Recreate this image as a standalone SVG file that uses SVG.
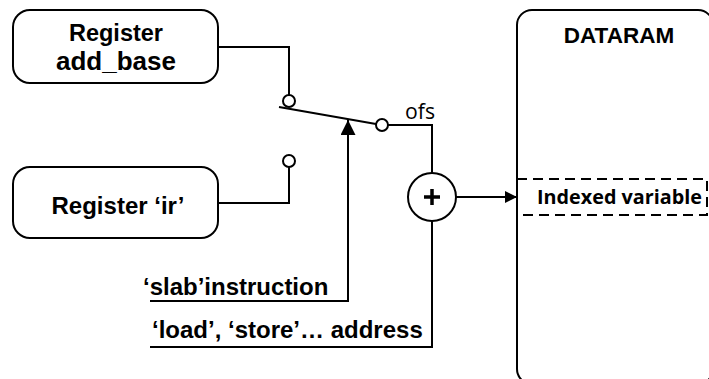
<svg xmlns="http://www.w3.org/2000/svg" width="709" height="379" viewBox="0 0 709 379">
  <defs>
    <marker id="arrow" viewBox="0 0 10 10" refX="10" refY="5" markerWidth="14" markerHeight="12" markerUnits="userSpaceOnUse" orient="auto">
      <path d="M0,0 L10,5 L0,10 z" fill="#000"/>
    </marker>
    <marker id="arrowBig" viewBox="0 0 10 10" refX="10" refY="5" markerWidth="18" markerHeight="15" markerUnits="userSpaceOnUse" orient="auto">
      <path d="M0,0 L10,5 L0,10 z" fill="#000"/>
    </marker>
    <style>
      .box { fill: #fff; stroke: #000; stroke-width: 2; }
      .wire { fill: none; stroke: #000; stroke-width: 2; }
      .term { fill: #fff; stroke: #000; stroke-width: 2; }
      .lbl { font-family: "Liberation Sans", Arial, sans-serif; font-weight: bold; fill: #000; }
      .cal { font-family: "Open Sans", "Noto Sans", sans-serif; fill: #000; }
    </style>
  </defs>
  <rect width="709" height="379" fill="#fff"/>

  <!-- register nodes -->
  <g id="reg-add-base">
    <rect class="box" x="13" y="10" width="205" height="73" rx="17"/>
    <text class="lbl" x="116" y="41" font-size="23.5" text-anchor="middle">Register</text>
    <text class="lbl" x="116" y="70" font-size="26" text-anchor="middle">add_base</text>
  </g>
  <g id="reg-ir">
    <rect class="box" x="13" y="167" width="205" height="71" rx="17"/>
    <text class="lbl" x="118" y="214" font-size="24" text-anchor="middle">Register ‘ir’</text>
  </g>

  <!-- data memory -->
  <g id="dataram">
    <rect class="box" x="517" y="10" width="196" height="374" rx="15"/>
    <text class="lbl" x="619" y="43" font-size="22.5" text-anchor="middle">DATARAM</text>
    <rect x="517" y="179" width="190" height="36" fill="none" stroke="#000" stroke-width="2" stroke-dasharray="10 6"/>
    <text class="cal" x="537" y="204" font-size="19" font-weight="bold" textLength="165" lengthAdjust="spacingAndGlyphs">Indexed variable</text>
  </g>

  <!-- adder -->
  <g id="adder">
    <circle class="term" cx="432" cy="197" r="24"/>
    <path d="M424,197 H440 M432,189 V205" stroke="#000" stroke-width="3.5" fill="none"/>
  </g>

  <!-- switch -->
  <g id="switch">
    <line class="wire" x1="279" y1="107" x2="376" y2="124"/>
    <circle class="term" cx="289" cy="101" r="6"/>
    <circle class="term" cx="289" cy="161" r="6"/>
    <circle class="term" cx="382" cy="125" r="6"/>
    <text class="cal" x="405" y="119" font-size="21" textLength="30" lengthAdjust="spacingAndGlyphs">ofs</text>
  </g>

  <!-- connectors -->
  <g id="connectors">
    <polyline class="wire" points="218,47 289,47 289,95"/>
    <polyline class="wire" points="218,203 289,203 289,167"/>
    <polyline class="wire" points="388,125 432,125 432,173"/>
    <line class="wire" x1="456" y1="197" x2="517" y2="197" marker-end="url(#arrow)"/>
    <polyline class="wire" points="150,301 348,301 348,120" marker-end="url(#arrowBig)"/>
    <polyline class="wire" points="150,347 432,347 432,221"/>
  </g>

  <!-- input labels -->
  <g id="labels">
    <text class="lbl" x="143" y="295" font-size="24">‘slab’instruction</text>
    <text class="lbl" x="152" y="338" font-size="24">‘load’, ‘store’… address</text>
  </g>
</svg>
